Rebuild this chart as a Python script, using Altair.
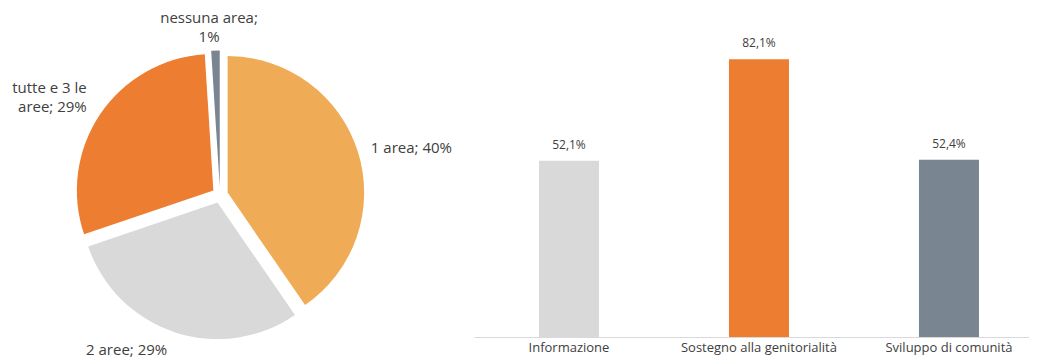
import altair as alt
import pandas as pd

# ---- data ----
pie_categories = ["1 area", "2 aree", "tutte e 3 le aree", "nessuna area"]
pie_values = [40.4, 29.4, 29.2, 1.0]
pie_labels = ["1 area; 40%", "2 aree; 29%", "tutte e 3 le\naree; 29%", "nessuna area;\n1%"]

bar_categories = ["Informazione", "Sostegno alla genitorialità", "Sviluppo di comunità"]
bar_values = [52.1, 82.1, 52.4]

# ---- styles ----
FONT = "Open Sans"
TEXT_COLOR = "#404040"
pie_colors = ["#F0AB56", "#D9D9D9", "#ED7D31", "#798591"]
bar_colors = ["#D9D9D9", "#ED7D31", "#798591"]
CX, CY = 212, 187        # pie centre inside its panel
R_PIE = 136.5
EXPLODE = 8
R_LABEL = 158
# per-label placement style (align, baseline, dx, dy)
label_style = [
    ("left", "middle", 0, 0),
    ("right", "top", -3, -2),
    ("right", "middle", -2, -19),
    ("center", "bottom", -6, -11),
]

pie_df = pd.DataFrame({
    "idx": list(range(len(pie_categories))),
    "slice": pie_categories,
    "value": pie_values,
    "label": pie_labels,
})
bar_df = pd.DataFrame({"area": bar_categories, "pct": bar_values})

base = (
    alt.Chart(pie_df)
    .transform_window(cum="sum(value)", sort=[alt.SortField("idx")], frame=[None, 0])
    .transform_joinaggregate(total="sum(value)")
    .transform_calculate(
        t1="datum.cum / datum.total * 2 * PI",
        t0="(datum.cum - datum.value) / datum.total * 2 * PI",
    )
    .transform_calculate(mid="(datum.t0 + datum.t1) / 2")
    .transform_calculate(
        ex=f"{CX} + {EXPLODE} * sin(datum.mid)",
        ey=f"{CY} - {EXPLODE} * cos(datum.mid)",
        lx=f"{CX} + {R_LABEL} * sin(datum.mid)",
        ly=f"{CY} - {R_LABEL} * cos(datum.mid)",
    )
)

arcs = base.mark_arc(radius=R_PIE).encode(
    x=alt.X("ex:Q", scale=None),
    y=alt.Y("ey:Q", scale=None),
    theta=alt.Theta("t0:Q", scale=None, stack=None),
    theta2="t1:Q",
    color=alt.Color("slice:N", scale=alt.Scale(domain=pie_categories, range=pie_colors), legend=None),
)

texts = []
for i, (al, bl, dx, dy) in enumerate(label_style):
    texts.append(
        base.transform_filter(f"datum.idx == {i}")
        .mark_text(align=al, baseline=bl, dx=dx, dy=dy, fontSize=15, lineHeight=19,
                   lineBreak="\n", color=TEXT_COLOR, font=FONT)
        .encode(
            x=alt.X("lx:Q", scale=None),
            y=alt.Y("ly:Q", scale=None),
            text="label:N",
        )
    )

pie = alt.layer(arcs, *texts).properties(width=466, height=329)

xenc = alt.X(
    "area:N",
    sort=bar_categories,
    scale=alt.Scale(paddingInner=0.6842, paddingOuter=0.3026, align=0.565),
    axis=alt.Axis(title=None, labelAngle=0, ticks=False, domainColor="#D9D9D9",
                  labelColor=TEXT_COLOR, labelFontSize=13, labelFont=FONT, labelPadding=4,
                  grid=False),
)
yenc = alt.Y("pct:Q", scale=alt.Scale(domain=[0, 97.25], nice=False), axis=None)

bars = alt.Chart(bar_df).mark_bar().encode(
    x=xenc,
    y=yenc,
    color=alt.Color("area:N", scale=alt.Scale(domain=bar_categories, range=bar_colors), legend=None),
)
bar_text = alt.Chart(bar_df).transform_calculate(
    lab="replace(format(datum.pct, '.1f'), '.', ',') + '%'"
).mark_text(baseline="alphabetic", dy=-12, fontSize=12, color=TEXT_COLOR, font=FONT).encode(
    x=xenc, y=yenc, text="lab:N"
)
bar_chart = alt.layer(bars, bar_text).properties(width=555, height=329)

chart = (
    alt.hconcat(pie, bar_chart, spacing=0)
    .resolve_scale(color="independent")
    .properties(padding=0)
    .configure(font=FONT)
    .configure_view(strokeWidth=0, stroke="transparent")
)

chart.save("out.html", embed_options={"renderer": "svg", "actions": False})
